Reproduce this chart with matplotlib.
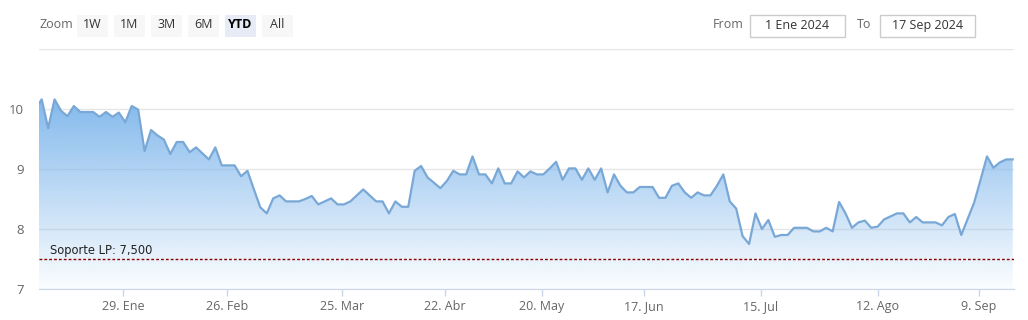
import matplotlib
matplotlib.use('Agg')
import matplotlib.pyplot as plt
import numpy as np
from matplotlib.patches import PathPatch, Rectangle

plt.rcParams['font.family'] = ['Open Sans', 'DejaVu Sans']

# precios de cierre (eje ordinal: una posicion por rueda)
precios = [
    10.00, 10.16, 9.68, 10.16, 9.97, 9.88, 10.05, 9.95, 9.95, 9.95,
    9.87, 9.95, 9.87, 9.94, 9.78, 10.05, 9.99, 9.30, 9.65, 9.56,
    9.49, 9.25, 9.45, 9.45, 9.28, 9.36, 9.26, 9.16, 9.36, 9.06,
    9.06, 9.06, 8.88, 8.97, 8.66, 8.36, 8.26, 8.51, 8.56, 8.46,
    8.46, 8.46, 8.50, 8.55, 8.41, 8.46, 8.51, 8.41, 8.41, 8.46,
    8.56, 8.66, 8.56, 8.46, 8.46, 8.26, 8.46, 8.37, 8.37, 8.97,
    9.05, 8.86, 8.77, 8.68, 8.80, 8.97, 8.91, 8.91, 9.21, 8.91,
    8.91, 8.76, 9.01, 8.76, 8.76, 8.96, 8.86, 8.96, 8.91, 8.91,
    9.01, 9.12, 8.82, 9.01, 9.01, 8.82, 9.01, 8.82, 9.01, 8.61,
    8.91, 8.72, 8.61, 8.61, 8.70, 8.70, 8.70, 8.52, 8.52, 8.72,
    8.76, 8.61, 8.52, 8.61, 8.56, 8.56, 8.72, 8.91, 8.46, 8.34,
    7.88, 7.75, 8.26, 8.00, 8.15, 7.87, 7.90, 7.90, 8.02, 8.02,
    8.02, 7.96, 7.96, 8.02, 7.96, 8.45, 8.26, 8.02, 8.11, 8.14,
    8.02, 8.04, 8.16, 8.21, 8.26, 8.26, 8.11, 8.20, 8.11, 8.11,
    8.11, 8.06, 8.20, 8.25, 7.90, 8.17, 8.44, 8.82, 9.21, 9.02,
    9.11, 9.16, 9.16,
]

# etiquetas del eje x y su posicion en el eje ordinal
fechas_tick = ['29. Ene', '26. Feb', '25. Mar', '22. Abr', '20. May',
               '17. Jun', '15. Jul', '12. Ago', '9. Sep']
pos_tick = [13.7, 29.8, 47.7, 63.7, 78.8, 94.7, 112.8, 131.0, 146.7]

y_ticks = [7, 8, 9, 10, 11]
soporte = 7.5
soporte_txt = 'Soporte LP: 7,500'

botones = ['1W', '1M', '3M', '6M', 'YTD', 'All']
desde = '1 Ene 2024'
hasta = '17 Sep 2024'

W, H = 1028, 320
fig = plt.figure(figsize=(W / 100, H / 100), dpi=100)

def fx(px):
    return px / W

def fy(py):
    return 1 - py / H

ax = fig.add_axes([fx(39), fy(289), fx(1014) - fx(39), fy(49) - fy(289)])

x = np.arange(len(precios))
ymin, ymax = 7, 11

# relleno con degradado
coll = ax.fill_between(x, precios, ymin, color='none', lw=0)
patch = PathPatch(coll.get_paths()[0], transform=ax.transData,
                  facecolor='none', edgecolor='none')
ax.add_patch(patch)
alpha = np.linspace(0.03, 0.95, 256)
grad = np.zeros((256, 1, 4))
grad[:, 0, 0] = 124 / 255
grad[:, 0, 1] = 181 / 255
grad[:, 0, 2] = 236 / 255
grad[:, 0, 3] = alpha
im = ax.imshow(grad, extent=[0, len(precios) - 1, ymin, 10.2],
               origin='lower', aspect='auto', zorder=1)
im.set_clip_path(patch)

ax.plot(x, precios, color='#79a8d6', lw=1.6, zorder=3, solid_joinstyle='round')

ax.axhline(soporte, color='#8b0000', lw=1, ls=(0, (2, 1.5)), zorder=4)
ax.text(0.011, soporte + 0.04, soporte_txt, transform=ax.get_yaxis_transform(),
        fontsize=8.3, color='#222222', va='bottom', ha='left', zorder=5,
        family='DejaVu Sans')

ax.set_xlim(0.58, 152.2)
ax.set_ylim(ymin, ymax)
ax.set_yticks(y_ticks)
ax.set_yticklabels([str(v) if v < 11 else '' for v in y_ticks])
ax.yaxis.grid(True, color='#e6e6e6', lw=1)
ax.set_axisbelow(True)
ax.tick_params(axis='y', length=0, pad=11, labelsize=9.5, labelcolor='#666666')
ax.set_xticks(pos_tick)
ax.set_xticklabels(fechas_tick)
ax.tick_params(axis='x', length=5, width=1, color='#ccd6eb', pad=3,
               labelsize=9, labelcolor='#666666')
for s in ['top', 'right', 'left']:
    ax.spines[s].set_visible(False)
ax.spines['bottom'].set_color('#ccd6eb')

# selector de rango
fig.text(fx(39), fy(25), 'Zoom', fontsize=9, color='#666666', va='center')
bx = [77, 114, 151, 188, 225, 262]
for b, lab in zip(bx, botones):
    sel = lab == 'YTD'
    fig.add_artist(Rectangle((fx(b), fy(37)), fx(31), fy(15) - fy(37),
                             facecolor='#e6ebf5' if sel else '#f7f7f7',
                             edgecolor='none', transform=fig.transFigure))
    fig.text(fx(b + 15.5), fy(25), lab, fontsize=9, ha='center', va='center',
             color='#000000' if sel else '#333333',
             fontweight='bold' if sel else 'normal')

fig.text(fx(713), fy(25), 'From', fontsize=9, color='#666666', va='center')
fig.text(fx(857), fy(25), 'To', fontsize=9, color='#666666', va='center')
for x0, txt in [(750, desde), (880, hasta)]:
    fig.add_artist(Rectangle((fx(x0), fy(37)), fx(95), fy(15) - fy(37),
                             facecolor='white', edgecolor='#cccccc', lw=1,
                             transform=fig.transFigure))
    fig.text(fx(x0 + 47.5), fy(25.5), txt, fontsize=9, ha='center',
             va='center', color='#333333')

plt.savefig('out.png', dpi=100)
